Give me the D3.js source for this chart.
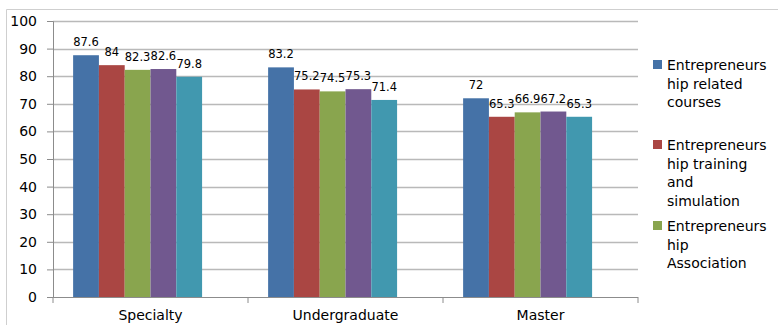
<!DOCTYPE html>
<html>
<head>
<meta charset="utf-8">
<script src="https://cdn.jsdelivr.net/npm/d3@7"></script>
<style>
  body { margin: 0; background: #fff; }
  text { font-family: "DejaVu Sans", sans-serif; fill: #000; }
</style>
</head>
<body>
<div id="chart"></div>
<script>
// data
var categories = ["Specialty", "Undergraduate", "Master"];
var s1 = [87.6, 83.2, 72];
var s2 = [84, 75.2, 65.3];
var s3 = [82.3, 74.5, 66.9];
var s4 = [82.6, 75.3, 67.2];
var s5 = [79.8, 71.4, 65.3];
var seriesValues = [s1, s2, s3, s4, s5];
var colors = ["#4572A7", "#AA4643", "#89A54E", "#71588F", "#4198AF"];
var yTicks = [0, 10, 20, 30, 40, 50, 60, 70, 80, 90, 100];
// only the first three legend entries are visible (legend is cut off)
var legendLines = [
  ["Entrepreneurs", "hip related", "courses"],
  ["Entrepreneurs", "hip training", "and", "simulation"],
  ["Entrepreneurs", "hip", "Association"]
];

var W = 778, H = 325;
var margin = { top: 21, right: 140, bottom: 28, left: 53 };
var width = W - margin.left - margin.right;
var height = H - margin.top - margin.bottom;

var root = d3.select("#chart").append("svg")
  .attr("width", W)
  .attr("height", H);

// outer chart frame (cut off at right and bottom)
root.append("path")
  .attr("d", "M6.5," + H + "V9.5H" + W)
  .attr("fill", "none")
  .attr("stroke", "#cfcfcf")
  .attr("stroke-width", 1);

var svg = root.append("g")
  .attr("transform", "translate(" + margin.left + "," + margin.top + ")");

var x0 = d3.scaleBand().domain(categories).range([0, width]).padding(0);
// Excel keeps one empty slot for a sixth series, so bars sit left of center
var x1 = d3.scaleBand().domain(d3.range(seriesValues.length + 1))
  .range([0, x0.bandwidth()]).paddingInner(0).paddingOuter(0.78);
var y = d3.scaleLinear().domain([0, 100]).range([height, 0]);

// gridlines
svg.selectAll(".grid")
  .data(yTicks.slice(1))
  .enter().append("line")
  .attr("x1", 0).attr("x2", width)
  .attr("y1", function(d) { return Math.round(y(d)) + 0.5; })
  .attr("y2", function(d) { return Math.round(y(d)) + 0.5; })
  .attr("stroke", "#b9b9b9")
  .attr("stroke-width", 1.5);

// bars
var groups = svg.selectAll(".cat")
  .data(categories)
  .enter().append("g")
  .attr("transform", function(d) { return "translate(" + x0(d) + ",0)"; });

groups.selectAll("rect")
  .data(function(d, i) { return seriesValues.map(function(s, k) { return { k: k, v: s[i] }; }); })
  .enter().append("rect")
  .attr("x", function(d) { return x1(d.k); })
  .attr("y", function(d) { return y(d.v); })
  .attr("width", x1.bandwidth())
  .attr("height", function(d) { return height - y(d.v); })
  .attr("fill", function(d) { return colors[d.k]; });

groups.selectAll(".lbl")
  .data(function(d, i) { return seriesValues.map(function(s, k) { return { k: k, v: s[i] }; }); })
  .enter().append("text")
  .attr("class", "lbl")
  .attr("x", function(d) { return x1(d.k) + x1.bandwidth() / 2; })
  .attr("y", function(d) { return y(d.v) - 9; })
  .attr("text-anchor", "middle")
  .attr("font-size", "11.5px")
  .text(function(d) { return d.v; });

// y axis
var yAxis = svg.append("g")
  .call(d3.axisLeft(y).tickValues(yTicks).tickSize(6).tickPadding(10));
yAxis.selectAll("text").attr("font-size", "14px").style("font-family", "DejaVu Sans, sans-serif");
yAxis.selectAll("line, path").attr("stroke", "#8c8c8c");

// x axis with ticks at band boundaries
var xAxis = svg.append("g")
  .attr("transform", "translate(0," + height + ")");
xAxis.append("line")
  .attr("x1", 0).attr("x2", width)
  .attr("y1", 0.5).attr("y2", 0.5)
  .attr("stroke", "#8c8c8c");
xAxis.selectAll(".tk")
  .data(categories.map(function(c) { return x0(c); }).concat([width]))
  .enter().append("line")
  .attr("x1", function(d) { return d; }).attr("x2", function(d) { return d; })
  .attr("y1", 0).attr("y2", 6)
  .attr("stroke", "#8c8c8c");
xAxis.selectAll(".cl")
  .data(categories)
  .enter().append("text")
  .attr("x", function(d) { return x0(d) + x0.bandwidth() / 2; })
  .attr("y", 23)
  .attr("text-anchor", "middle")
  .attr("font-size", "14px")
  .text(function(d) { return d; });

// legend
var legend = root.append("g").attr("transform", "translate(653,0)");
var entryTop = [65, 145, 226];
legendLines.forEach(function(lines, i) {
  var g = legend.append("g").attr("transform", "translate(0," + entryTop[i] + ")");
  g.append("rect")
    .attr("x", 0).attr("y", -5)
    .attr("width", 9).attr("height", 9)
    .attr("fill", colors[i]);
  g.selectAll("text")
    .data(lines)
    .enter().append("text")
    .attr("x", 14)
    .attr("y", function(d, j) { return 5 + j * 18.5; })
    .attr("font-size", "14px")
    .text(function(d) { return d; });
});
</script>
</body>
</html>
